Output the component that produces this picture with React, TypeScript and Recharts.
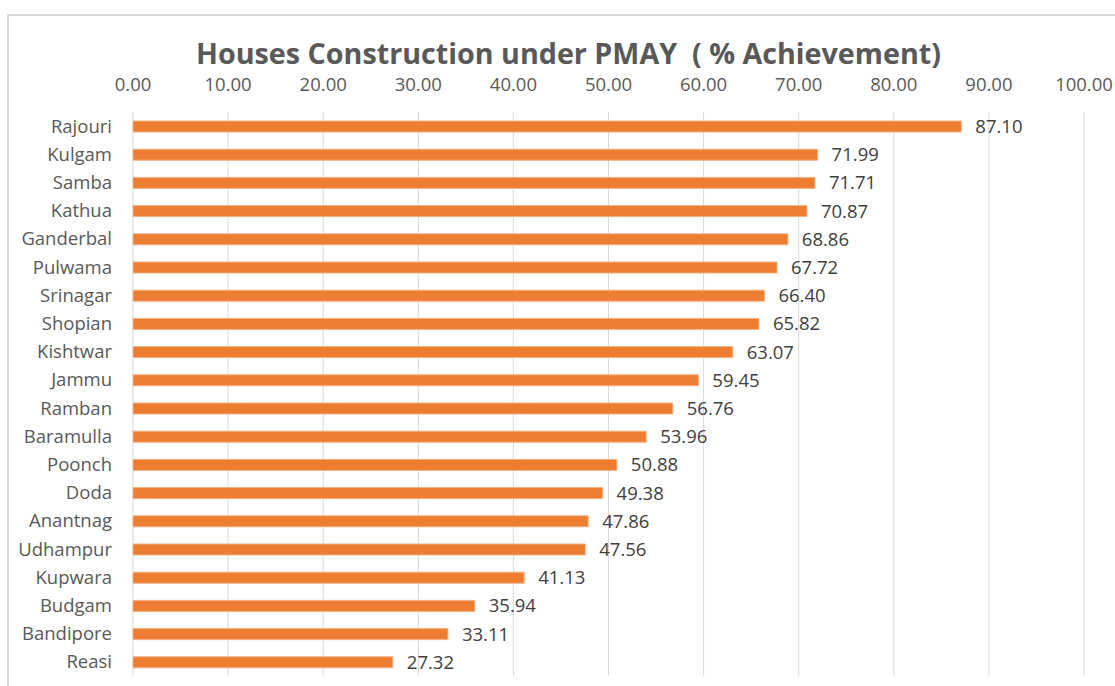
import { BarChart, Bar, XAxis, YAxis, CartesianGrid, LabelList } from 'recharts';

const districts = [
  'Rajouri', 'Kulgam', 'Samba', 'Kathua', 'Ganderbal', 'Pulwama', 'Srinagar', 'Shopian', 'Kishtwar', 'Jammu',
  'Ramban', 'Baramulla', 'Poonch', 'Doda', 'Anantnag', 'Udhampur', 'Kupwara', 'Budgam', 'Bandipore', 'Reasi',
];
const achievement = [
  87.1, 71.99, 71.71, 70.87, 68.86, 67.72, 66.4, 65.82, 63.07, 59.45,
  56.76, 53.96, 50.88, 49.38, 47.86, 47.56, 41.13, 35.94, 33.11, 27.32,
];
const xTicks = [0, 10, 20, 30, 40, 50, 60, 70, 80, 90, 100];

const data = districts.map((name, i) => ({ name, value: achievement[i] }));

const FONT = '"Open Sans", sans-serif';
const fmt = (v: number) => Number(v).toFixed(2);

export default function App() {
  return (
    <div style={{ position: 'absolute', left: 0, top: 0, width: 1115, height: 686, overflow: 'hidden', background: '#fff', fontFamily: FONT }}>
      {/* chart frame, cropped at right and bottom */}
      <div style={{ position: 'absolute', left: 7, top: 14, width: 1200, height: 800, borderLeft: '2px solid #d9d9d9', borderTop: '2px solid #d9d9d9' }} />
      <div style={{ position: 'absolute', left: 0, top: 33, width: 1137, textAlign: 'center', fontSize: 28.7, lineHeight: '40px', fontWeight: 700, color: '#595959', whiteSpace: 'pre' }}>
        {'Houses Construction under PMAY  ( % Achievement)'}
      </div>
      <div style={{ position: 'absolute', left: 0, top: 0 }}>
        <BarChart
          width={1115}
          height={686}
          data={data}
          layout="vertical"
          margin={{ top: 82, right: 31, bottom: 10, left: 0 }}
          barCategoryGap={0}
        >
          <CartesianGrid horizontal={false} stroke="#d9d9d9" />
          <XAxis
            type="number"
            orientation="top"
            domain={[0, 100]}
            ticks={xTicks}
            tickFormatter={fmt}
            axisLine={false}
            tickLine={false}
            tickSize={0}
            tickMargin={21}
            height={30}
            tick={{ fill: '#595959', fontSize: 18.5, fontFamily: FONT }}
            interval={0}
          />
          <YAxis
            type="category"
            dataKey="name"
            width={133}
            axisLine={false}
            tickLine={false}
            tickSize={0}
            tickMargin={21}
            tick={{ fill: '#595959', fontSize: 18.5, fontFamily: FONT }}
            interval={0}
          />
          <Bar dataKey="value" fill="#ED7D31" stroke="#F4B183" strokeWidth={1} barSize={11} isAnimationActive={false}>
            <LabelList dataKey="value" position="right" offset={14} formatter={fmt} fill="#404040" fontSize={18.5} fontFamily={FONT} />
          </Bar>
        </BarChart>
      </div>
    </div>
  );
}
